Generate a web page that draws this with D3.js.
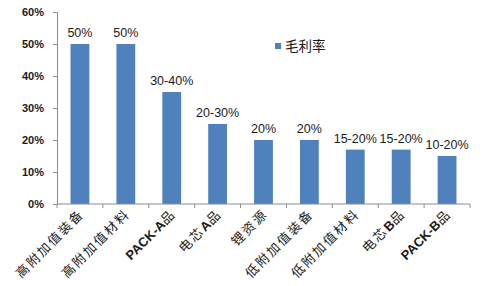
<!DOCTYPE html>
<html>
<head>
<meta charset="utf-8">
<script src="https://cdn.jsdelivr.net/npm/d3@7"></script>
<style>
  html, body { margin: 0; padding: 0; background: #fff; }
  svg { display: block; }
</style>
</head>
<body>
<svg id="chart"></svg>
<script>
// Gross margin by product segment
const categories = ['高附加值装备', '高附加值材料', 'PACK-A品', '电芯A品', '锂资源', '低附加值装备', '低附加值材料', '电芯B品', 'PACK-B品'];
const values = [50, 50, 35, 25, 20, 20, 17, 17, 15];
const valueLabels = ['50%', '50%', '30-40%', '20-30%', '20%', '20%', '15-20%', '15-20%', '10-20%'];
const yTicks = [0, 10, 20, 30, 40, 50, 60];
const seriesName = '毛利率';

const width = 490, height = 286;
const margin = { top: 12, right: 20, bottom: 82, left: 57 };
const barColor = '#4f81bd';
const axisColor = '#8c8c8c';

const svg = d3.select('#chart').attr('width', width).attr('height', height);

const x = d3.scaleBand().domain(categories)
  .range([margin.left, width - margin.right])
  .paddingInner(0.59).paddingOuter(0.295);
const y = d3.scaleLinear().domain([0, 60]).range([height - margin.bottom, margin.top]);

// Bars
svg.append('g').selectAll('rect')
  .data(values)
  .join('rect')
  .attr('x', (d, i) => x(categories[i]))
  .attr('y', d => y(d))
  .attr('width', x.bandwidth())
  .attr('height', d => y(0) - y(d))
  .attr('fill', barColor);

// Value labels
svg.append('g').selectAll('text')
  .data(values)
  .join('text')
  .attr('x', (d, i) => x(categories[i]) + x.bandwidth() / 2)
  .attr('y', d => y(d) - 7)
  .attr('text-anchor', 'middle')
  .attr('font-family', 'Liberation Sans, Arial, sans-serif')
  .attr('font-size', '12.5px')
  .attr('fill', '#1a1a1a')
  .text((d, i) => valueLabels[i]);

// Y axis
const yAxis = d3.axisLeft(y).tickValues(yTicks).tickSize(4).tickFormat(d => d + '%');
const gy = svg.append('g').attr('transform', `translate(${margin.left},0)`).call(yAxis);
gy.selectAll('text')
  .attr('font-family', 'Liberation Sans, Arial, sans-serif')
  .attr('font-size', '11px').attr('font-weight', 'bold')
  .attr('fill', '#1a1a1a').attr('x', -13);
gy.selectAll('.domain, .tick line').attr('stroke', axisColor);

// X axis: tick marks at band boundaries
const step = x.step();
const x0 = margin.left;
const boundaries = d3.range(categories.length + 1).map(i => x0 + i * step);
const gx = svg.append('g');
gx.append('line')
  .attr('x1', x0).attr('x2', boundaries[boundaries.length - 1])
  .attr('y1', y(0)).attr('y2', y(0))
  .attr('stroke', axisColor);
gx.selectAll('line.tick')
  .data(boundaries)
  .join('line').attr('class', 'tick')
  .attr('x1', d => d).attr('x2', d => d)
  .attr('y1', y(0)).attr('y2', y(0) + 4)
  .attr('stroke', axisColor);

// Category labels, rotated; Latin parts in bold like the original
const labels = svg.append('g').selectAll('text')
  .data(categories)
  .join('text')
  .attr('transform', d => `translate(${x(d) + x.bandwidth() / 2 + 5},${y(0) + 11}) rotate(-45)`)
  .attr('text-anchor', 'end')
  .attr('font-family', '"Noto Sans CJK SC", sans-serif')
  .attr('font-size', '13px')
  .attr('letter-spacing', '2px')
  .attr('fill', '#1a1a1a');
labels.each(function(d) {
  const t = d3.select(this);
  d.split(/([A-Za-z\-]+)/).filter(s => s).forEach(part => {
    t.append('tspan')
      .attr('font-weight', /[A-Za-z]/.test(part) ? 'bold' : 'normal')
      .attr('font-family', /[A-Za-z]/.test(part) ? 'Liberation Sans, Arial, sans-serif' : null)
      .attr('letter-spacing', /[A-Za-z]/.test(part) ? '0px' : null)
      .text(part);
  });
});

// Legend
const lg = svg.append('g').attr('transform', 'translate(275,43)');
lg.append('rect').attr('width', 6).attr('height', 6).attr('fill', barColor);
lg.append('text')
  .attr('x', 10).attr('y', 3).attr('dy', '0.35em')
  .attr('font-family', '"Noto Sans CJK SC", sans-serif')
  .attr('font-size', '13.5px')
  .attr('fill', '#1a1a1a')
  .text(seriesName);
</script>
</body>
</html>
